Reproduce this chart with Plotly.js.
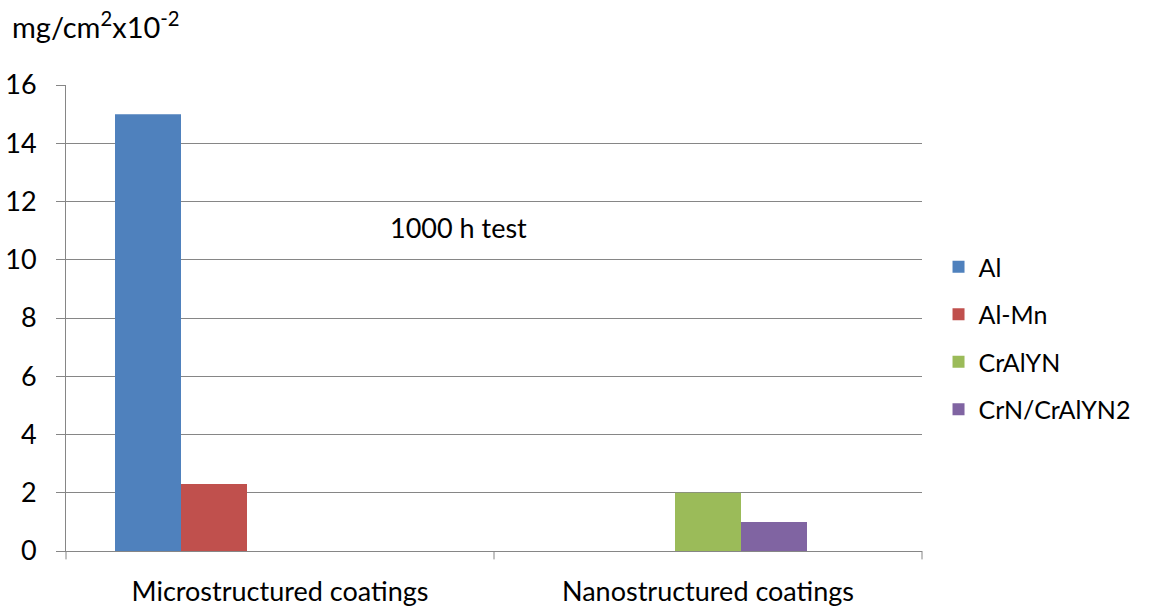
<!DOCTYPE html>
<html>
<head>
<meta charset="utf-8">
<script src="https://cdn.plot.ly/plotly-3.0.1.min.js"></script>
<style>html,body{margin:0;padding:0;background:#fff;}#chart{width:1150px;height:610px;}</style>
</head>
<body>
<div id="chart"></div>
<script>
const categories = ["Microstructured coatings", "Nanostructured coatings"];
const seriesNames = ["Al", "Al-Mn", "CrAlYN", "CrN/CrAlYN2"];
const alValues = [15, null];
const alMnValues = [2.3, null];
const crAlYNValues = [null, 2.0];
const crNValues = [null, 1.0];
const yTicks = [0, 2, 4, 6, 8, 10, 12, 14, 16];

const colors = ["#4F81BD", "#C0504D", "#9BBB59", "#8064A2"];
const allValues = [alValues, alMnValues, crAlYNValues, crNValues];
// bar placement within category (category units), as in the original layout
const barWidth = 0.1542;
const barOffsets = [-0.3855, -0.2313, -0.0771, 0.0771];
const font = "Lato, 'Open Sans', sans-serif";
const fs = 27;

const traces = seriesNames.map((name, i) => ({
  type: "bar",
  name: name,
  legendgroup: "g" + i,
  x: categories,
  y: allValues[i],
  width: barWidth,
  offset: barOffsets[i],
  marker: {color: colors[i], line: {width: 0}},
  hoverinfo: "x+y+name"
}));

const layout = {
  width: 1150, height: 610,
  paper_bgcolor: "#fff", plot_bgcolor: "#fff",
  margin: {l: 66, r: 228, t: 85, b: 59, autoexpand: false},
  barmode: "overlay",
  font: {family: font, size: fs, color: "#000"},
  showlegend: true,
  legend: {
    x: 1.0193, xanchor: "left", y: 0.457, yanchor: "middle",
    font: {family: font, size: 25, color: "#000"},
    traceorder: "grouped",
    tracegroupgap: 12,
    bgcolor: "rgba(0,0,0,0)"
  },
  xaxis: {
    type: "category",
    range: [-0.5, 1.5],
    showgrid: false,
    showline: true, linecolor: "#868686", linewidth: 1,
    ticks: "", ticklabelstandoff: 17,
    tickfont: {family: font, size: fs, color: "#000"},
    zeroline: false
  },
  yaxis: {
    range: [0, 16],
    tickvals: yTicks,
    ticks: "outside", ticklen: 9, tickcolor: "#868686",
    ticklabelstandoff: 14,
    showline: true, linecolor: "#868686", linewidth: 1,
    showgrid: true, gridcolor: "#868686", gridwidth: 1,
    zeroline: false,
    tickfont: {family: font, size: fs, color: "#000"}
  },
  shapes: [0, 0.5, 1].map(p => ({
    type: "line", xref: "paper", yref: "paper",
    x0: p, x1: p, y0: 0, y1: -0.018,
    line: {color: "#868686", width: 1}
  })),
  annotations: [
    {
      text: "mg/cm<sup>2</sup>x10<sup>-2</sup>",
      xref: "paper", yref: "paper",
      x: -0.066, y: 1.128, xanchor: "left", yanchor: "middle",
      showarrow: false,
      font: {family: font, size: 29, color: "#000"}
    },
    {
      text: "1000 h test",
      xref: "paper", yref: "paper",
      x: 0.458, y: 0.694, xanchor: "center", yanchor: "middle",
      showarrow: false,
      font: {family: font, size: fs, color: "#000"}
    }
  ]
};

Plotly.newPlot("chart", traces, layout, {displayModeBar: false, staticPlot: true});
</script>
</body>
</html>
